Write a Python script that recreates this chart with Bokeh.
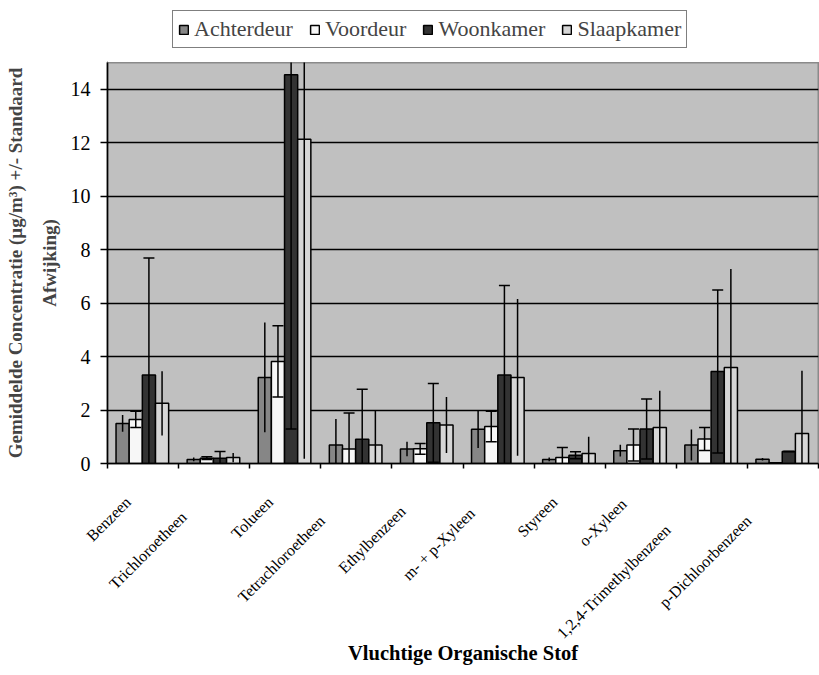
import numpy as np
from bokeh.plotting import figure
from bokeh.layouts import column, row
from bokeh.models import (ColumnDataSource, Range1d, FixedTicker, Legend, LegendItem, Title)
from bokeh.embed import file_html
from bokeh.resources import INLINE
from bokeh.core.properties import value

# ---------------- data ----------------
categories = ["Benzeen", "Trichloroetheen", "Tolueen", "Tetrachloroetheen", "Ethylbenzeen",
              "m- + p-Xyleen", "Styreen", "o-Xyleen", "1,2,4-Trimethylbenzeen",
              "p-Dichloorbenzeen"]
series = ["Achterdeur", "Voordeur", "Woonkamer", "Slaapkamer"]

achterdeur = [1.50, 0.15, 3.22, 0.69, 0.54, 1.28, 0.15, 0.48, 0.69, 0.16]
achterdeur_sd = [0.31, 0.07, 2.05, 0.97, 0.27, 0.70, 0.07, 0.22, 0.58, 0.05]
voordeur = [1.65, 0.20, 3.82, 0.54, 0.55, 1.38, 0.22, 0.69, 0.92, 0.03]
voordeur_sd = [0.30, 0.05, 1.33, 1.35, 0.20, 0.57, 0.38, 0.60, 0.43, 0.00]
woonkamer = [3.31, 0.20, 14.54, 0.91, 1.52, 3.31, 0.31, 1.29, 3.44, 0.45]
woonkamer_sd = [4.38, 0.25, 13.25, 1.87, 1.47, 3.35, 0.13, 1.12, 3.05, 0.00]
slaapkamer = [2.25, 0.22, 12.13, 0.69, 1.44, 3.22, 0.37, 1.35, 3.59, 1.12]
slaapkamer_sd = [1.20, 0.17, 11.95, 1.28, 1.05, 2.93, 0.63, 1.37, 3.69, 2.35]

y_ticks = [0, 2, 4, 6, 8, 10, 12, 14]

means = [achterdeur, voordeur, woonkamer, slaapkamer]
sds = [achterdeur_sd, voordeur_sd, woonkamer_sd, slaapkamer_sd]
colors = ["#868686", "#F7F7F7", "#333333", "#D6D6D6"]
has_caps = [False, True, True, False]

SERIF = "Liberation Serif"
W = 819
LEFT = 107
RIGHT = 1
TOP_H = 62
MAIN_H = 415
MAIN_BOTTOM = 14
LAB_H = 196
LAB_BOTTOM = 34
ncat = len(categories)

# ---------------- legend strip ----------------
lg = figure(width=W, height=TOP_H, output_backend="svg", toolbar_location=None,
            x_range=Range1d(0, 1), y_range=Range1d(0, 1),
            x_axis_location=None, y_axis_location=None,
            min_border_left=LEFT, min_border_right=RIGHT, min_border_top=0,
            min_border_bottom=0)
lg.outline_line_color = None
lg.grid.visible = False
items = []
for name, col in zip(series, colors):
    # legend proxy glyph, kept outside the visible range of this strip
    proxy = ColumnDataSource(dict(x=[-5], top=[0]))
    rr = lg.vbar(x="x", top="top", width=0.1, source=proxy,
                 fill_color=col, line_color="black", line_width=1.5)
    items.append(LegendItem(label=name, renderers=[rr]))
legend = Legend(items=items, orientation="horizontal", location=(172 - LEFT, 14),
                border_line_color="black", border_line_width=1.5,
                background_fill_color="white", background_fill_alpha=1.0,
                label_text_font=SERIF, label_text_font_size="22px",
                glyph_width=11, glyph_height=11, label_standoff=5,
                spacing=16, padding=5, margin=0)
lg.add_layout(legend)

# ---------------- main figure ----------------
p = figure(width=W, height=MAIN_H, output_backend="svg", toolbar_location=None,
           x_range=Range1d(0, ncat), y_range=Range1d(0, 15),
           min_border_left=LEFT, min_border_right=RIGHT, min_border_top=0,
           min_border_bottom=MAIN_BOTTOM)
p.background_fill_color = "#C0C0C0"
p.border_fill_color = "white"
p.outline_line_color = "#8A8A8A"
p.outline_line_width = 2

bar_w = 0.185
group_center = 0.49
for k, (name, m, sd, col, cap) in enumerate(zip(series, means, sds, colors, has_caps)):
    xc = np.arange(ncat) + group_center + (k - 1.5) * bar_w
    m = np.array(m)
    sd = np.array(sd)
    src = ColumnDataSource(dict(x=xc, top=m, lo=m - sd, hi=m + sd))
    p.vbar(x="x", top="top", width=bar_w, bottom=0, source=src,
           fill_color=col, line_color="black", line_width=1.5)
    p.segment(x0="x", y0="lo", x1="x", y1="hi", source=src,
              line_color="black", line_width=1.5)
    if cap:
        p.scatter(x="x", y="hi", source=src, marker="dash", size=11,
                  line_color="black", line_width=1.5)
        p.scatter(x="x", y="lo", source=src, marker="dash", size=11,
                  line_color="black", line_width=1.5)

p.xgrid.visible = False
p.ygrid.grid_line_color = "black"
p.ygrid.grid_line_width = 1.5

p.yaxis.ticker = FixedTicker(ticks=y_ticks)
p.yaxis.major_label_text_font = SERIF
p.yaxis.major_label_text_font_size = "20px"
p.yaxis.major_label_text_color = "black"
p.yaxis.major_tick_out = 7
p.yaxis.major_tick_in = 0
p.yaxis.minor_tick_line_color = None
p.yaxis.major_label_standoff = 10
p.yaxis.axis_line_width = 1.5
p.yaxis.major_tick_line_width = 1.5
p.yaxis.axis_label = "Gemiddelde Concentratie (µg/m³) +/- Standaard\nAfwijking)"
p.yaxis.axis_label_text_font = SERIF
p.yaxis.axis_label_text_font_style = "bold"
p.yaxis.axis_label_text_font_size = "19px"
p.yaxis.axis_label_text_line_height = 1.6
p.yaxis.axis_label_standoff = 8

p.xaxis.ticker = FixedTicker(ticks=list(range(ncat + 1)))
p.xaxis.major_label_overrides = {i: "" for i in range(ncat + 1)}
p.xaxis.major_label_text_font_size = "1px"
p.xaxis.major_label_standoff = 0
p.xaxis.major_tick_out = 5
p.xaxis.major_tick_in = 0
p.xaxis.minor_tick_line_color = None
p.xaxis.axis_line_width = 1.5
p.xaxis.major_tick_line_width = 1.5

# ---------------- category labels strip (same x scale, wider frame) ----------------
px_per_unit = (W - LEFT - RIGHT) / ncat
lab_frame_h = LAB_H - LAB_BOTTOM
q = figure(width=W, height=LAB_H, output_backend="svg", toolbar_location=None,
           x_range=Range1d(-LEFT / px_per_unit, ncat), y_range=Range1d(-lab_frame_h, 0),
           x_axis_location=None, y_axis_location=None,
           min_border_left=0, min_border_right=RIGHT, min_border_top=0,
           min_border_bottom=LAB_BOTTOM)
q.outline_line_color = None
q.grid.visible = False

# x-axis title, centred under the plot area of the main chart
TITLE = "Vluchtige Organische Stof"
TITLE_SIZE = 20.5
title_width = 11.22 * TITLE_SIZE          # approx. advance width of the bold title
plot_centre = (LEFT + (W - RIGHT)) / 2
q.add_layout(Title(text=TITLE, align="left", offset=plot_centre - title_width / 2,
                   text_font=SERIF, text_font_style="bold",
                   text_font_size=f"{TITLE_SIZE}px",
                   text_color="black", standoff=0), "below")

lab_src = ColumnDataSource(dict(
    x=np.arange(ncat) + 0.5,
    y=np.zeros(ncat),
    text=categories,
    xo=[-1.5 - 1.93 * len(c) for c in categories],
    yo=[9 + 1.86 * len(c) for c in categories],
))
q.text(x="x", y="y", text="text", x_offset="xo", y_offset="yo", source=lab_src,
       angle=np.pi / 4, text_align="right", text_baseline="middle",
       text_font=value(SERIF), text_font_size="16px", text_color="black")

layout = column(lg, p, row(q), spacing=0)
open("out.html", "w").write(file_html(layout, INLINE))
